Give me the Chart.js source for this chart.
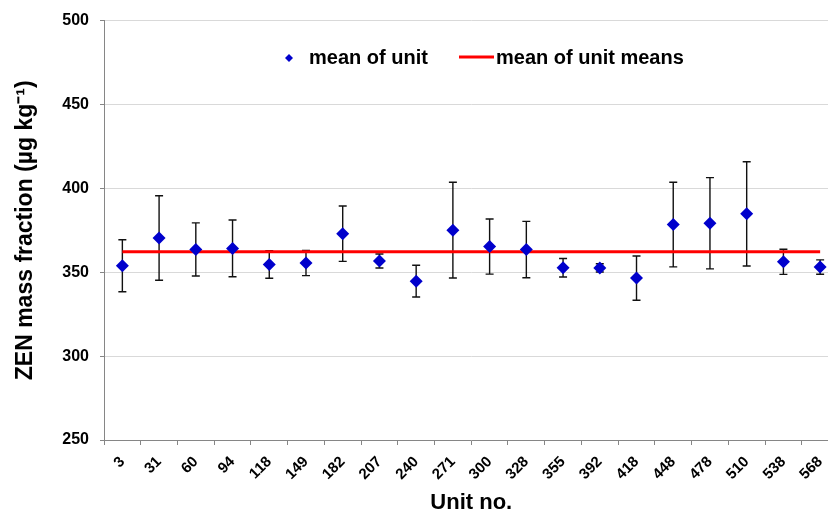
<!DOCTYPE html>
<html>
<head>
<meta charset="utf-8">
<script src="https://cdn.jsdelivr.net/npm/chart.js@4.4.1/dist/chart.umd.min.js"></script>
<style>
  html, body { margin: 0; padding: 0; background: #fff; overflow: hidden; }
  #wrap { width: 845px; height: 517px; }
</style>
</head>
<body>
<div id="wrap"><canvas id="unitChart" width="845" height="517"></canvas></div>
<script>
// ===============================
// Data
// ===============================
const units = ["3", "31", "60", "94", "118", "149", "182", "207", "240", "271",
               "300", "328", "355", "392", "418", "448", "478", "510", "538", "568"];

const unitMeans = [353.9, 370.4, 363.6, 364.2, 354.6, 355.5, 373.0, 356.7, 344.7, 375.1,
                   365.3, 363.5, 352.7, 352.6, 346.5, 378.4, 379.2, 384.8, 356.2, 353.1];

// half width of the error bars
const unitErrors = [15.5, 25.2, 15.8, 16.9, 8.2, 7.5, 16.5, 4.2, 9.5, 28.5,
                    16.4, 16.8, 5.5, 2.5, 13.2, 25.2, 27.2, 31.1, 7.5, 4.3];

const meanOfMeans = 362.2;

const yTicks = [250, 300, 350, 400, 450, 500];

const FONT = "'Liberation Sans', Arial, sans-serif";

// ===============================
// Error bars (drawn below the markers)
// ===============================
const errorBars = {
  id: "errorBars",
  beforeDatasetsDraw(chart) {
    const ctx = chart.ctx;
    const x = chart.scales.x;
    const y = chart.scales.y;
    ctx.save();
    ctx.strokeStyle = "#111";
    ctx.lineWidth = 1.4;
    unitMeans.forEach((m, i) => {
      const px = x.getPixelForValue(i);
      const top = y.getPixelForValue(m + unitErrors[i]);
      const bot = y.getPixelForValue(m - unitErrors[i]);
      ctx.beginPath();
      ctx.moveTo(px, top);
      ctx.lineTo(px, bot);
      ctx.moveTo(px - 4, top);
      ctx.lineTo(px + 4, top);
      ctx.moveTo(px - 4, bot);
      ctx.lineTo(px + 4, bot);
      ctx.stroke();
    });
    ctx.restore();
  }
};

// ===============================
// Legend inside the plot area
// ===============================
const innerLegend = {
  id: "innerLegend",
  afterDraw(chart) {
    const ctx = chart.ctx;
    const cy = 58;
    ctx.save();
    ctx.font = "bold 20px " + FONT;
    ctx.textBaseline = "middle";
    ctx.textAlign = "left";

    // diamond
    ctx.fillStyle = "#0000cc";
    ctx.beginPath();
    ctx.moveTo(289, cy - 4);
    ctx.lineTo(293, cy);
    ctx.lineTo(289, cy + 4);
    ctx.lineTo(285, cy);
    ctx.closePath();
    ctx.fill();
    ctx.fillStyle = "#000";
    ctx.fillText(chart.data.datasets[0].label, 309, cy);

    // red line
    ctx.strokeStyle = "#ff0000";
    ctx.lineWidth = 3;
    ctx.beginPath();
    ctx.moveTo(459, cy - 1);
    ctx.lineTo(494, cy - 1);
    ctx.stroke();
    ctx.fillText(chart.data.datasets[1].label, 496, cy);
    ctx.restore();
  }
};

// ===============================
// Chart
// ===============================
const ctx = document.getElementById("unitChart");
const unitChart = new Chart(ctx, {
  type: "line",
  data: {
    labels: units,
    datasets: [
      {
        label: "mean of unit",
        data: unitMeans,
        showLine: false,
        pointStyle: "rectRot",
        pointRadius: 6.5,
        pointBackgroundColor: "#0000cc",
        pointBorderColor: "#0000cc",
        pointBorderWidth: 0
      },
      {
        label: "mean of unit means",
        data: units.map(() => meanOfMeans),
        borderColor: "#ff0000",
        borderWidth: 3,
        pointRadius: 0,
        fill: false
      }
    ]
  },
  options: {
    responsive: false,
    animation: false,
    layout: { padding: { top: 20, right: 5, left: 0, bottom: 0 } },
    plugins: {
      legend: { display: false },
      tooltip: { enabled: false }
    },
    scales: {
      x: {
        type: "category",
        offset: true,
        grid: {
          offset: true,
          drawOnChartArea: false,
          drawTicks: true,
          tickLength: 5,
          tickColor: "#868686"
        },
        border: { display: true, color: "#868686", width: 1 },
        ticks: {
          autoSkip: false,
          minRotation: 45,
          maxRotation: 45,
          padding: 8,
          color: "#000",
          font: { family: FONT, size: 15, weight: "bold" }
        },
        title: {
          display: true,
          text: "Unit no.",
          color: "#000",
          padding: { top: 0, bottom: 1 },
          font: { family: FONT, size: 22, weight: "bold" }
        },
        afterFit(scale) { scale.height = 77; }
      },
      y: {
        min: 250,
        max: 500,
        afterBuildTicks(scale) {
          scale.ticks = yTicks.map(v => ({ value: v }));
        },
        grid: {
          color: "#d9d9d9",
          lineWidth: 1,
          drawTicks: true,
          tickLength: 4,
          tickColor: "#868686"
        },
        border: { display: true, color: "#868686", width: 1 },
        ticks: {
          padding: 11,
          color: "#000",
          font: { family: FONT, size: 16, weight: "bold" }
        },
        title: {
          display: true,
          text: "ZEN mass fraction (µg kg⁻¹)",
          color: "#000",
          padding: { top: 12, bottom: 0 },
          font: { family: FONT, size: 23, weight: "bold" }
        },
        afterFit(scale) { scale.width = 104; }
      }
    }
  },
  plugins: [errorBars, innerLegend]
});
</script>
</body>
</html>
